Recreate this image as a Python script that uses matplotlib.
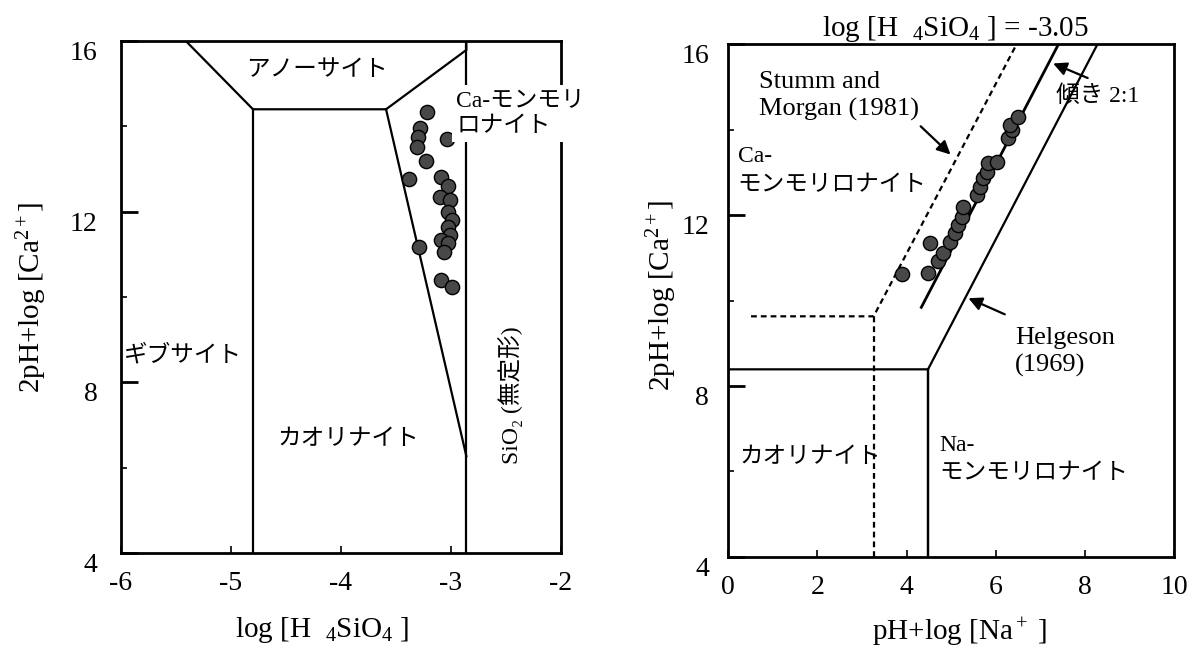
import matplotlib
matplotlib.use("Agg")
import matplotlib.pyplot as plt
from matplotlib.ticker import FixedLocator

plt.rcParams['font.family'] = ['Liberation Serif', 'Noto Sans CJK JP', 'DejaVu Sans']
plt.rcParams['mathtext.fontset'] = 'custom'
plt.rcParams['mathtext.rm'] = 'Liberation Serif'
plt.rcParams['mathtext.it'] = 'Liberation Serif:italic'

# ---- Left diagram: 2pH+log[Ca2+] vs log[H4SiO4] ----
left_pts_x = [-3.22, -3.28, -3.30, -3.31, -3.04, -3.23, -3.38, -3.09, -3.03,
              -3.10, -3.01, -3.03, -2.99, -3.03, -3.01, -3.09, -3.03, -3.06,
              -3.29, -3.09, -2.99]
left_pts_y = [14.33, 13.95, 13.76, 13.52, 13.70, 13.19, 12.76, 12.82, 12.60,
              12.35, 12.27, 12.00, 11.80, 11.65, 11.45, 11.34, 11.26, 11.06,
              11.18, 10.40, 10.24]

anorthite_x = [-5.41, -4.80, -3.59, -2.86, -2.86]
anorthite_y = [16.0, 14.40, 14.40, 15.79, 16.0]
gibbsite_kaol_x = [-4.80, -4.80]
gibbsite_kaol_y = [14.40, 4.0]
kaol_camont_x = [-3.59, -2.86]
kaol_camont_y = [14.40, 6.27]
silica_x = [-2.86, -2.86]
silica_y = [4.0, 16.0]

# ---- Right diagram: 2pH+log[Ca2+] vs pH+log[Na+] ----
right_pts_x = [3.89, 4.53, 4.49, 4.71, 4.82, 4.97, 5.09, 5.16, 5.24, 5.27,
               5.57, 5.65, 5.72, 5.80, 5.83, 6.02, 6.28, 6.36, 6.32, 6.51]
right_pts_y = [10.61, 11.34, 10.64, 10.93, 11.10, 11.38, 11.57, 11.77, 11.96,
               12.19, 12.47, 12.66, 12.86, 13.01, 13.21, 13.25, 13.79, 13.99,
               14.11, 14.30]

helgeson_x = [0.0, 4.48, 4.48, 4.48, 8.285]
helgeson_y = [8.39, 8.39, 4.0, 8.39, 16.0]
stumm_x = [0.51, 3.26, 6.47]
stumm_y = [9.63, 9.63, 16.0]
stumm_vert_x = [3.26, 3.26]
stumm_vert_y = [4.0, 9.63]
fit_x = [4.33, 7.41]
fit_y = [9.84, 16.0]

yticks = [4, 8, 12, 16]
yminor = [6, 10, 14]
left_xticks = [-6, -5, -4, -3, -2]
right_xticks = [0, 2, 4, 6, 8, 10]

fig = plt.figure(figsize=(11.93, 6.51), dpi=100)
axL = fig.add_axes([0.1014, 0.1505, 0.3688, 0.7865])
axR = fig.add_axes([0.6105, 0.1444, 0.3736, 0.788])

LW = 1.6
TICK_FS = 20
LBL_FS = 21
NOTE_FS = 19
JP_FS = 17


def style_axes(ax, xticks, xlim, ypad):
    ax.set_xlim(*xlim)
    ax.set_ylim(4, 16)
    ax.set_xticks(xticks)
    ax.set_yticks(yticks)
    ax.yaxis.set_minor_locator(FixedLocator(yminor))
    for s in ax.spines.values():
        s.set_linewidth(2.0)
    ax.tick_params(axis='y', which='major', direction='in', length=12, width=2,
                   labelsize=TICK_FS, pad=ypad)
    ax.tick_params(axis='y', which='minor', direction='in', length=4, width=1.2)
    ax.tick_params(axis='x', which='major', direction='in', length=5, width=1.2,
                   labelsize=TICK_FS, pad=13)
    for lab in ax.get_yticklabels():
        lab.set_verticalalignment('top')
    ax.set_ylabel(r'2pH+log [Ca$^{2+}$]', fontsize=LBL_FS)


def dots(ax, xs, ys):
    ax.scatter(xs, ys, s=105, facecolor='#484848', edgecolor='black',
               linewidth=1.0, zorder=4, clip_on=False)


# Left panel
style_axes(axL, left_xticks, (-6, -2), 17)
axL.set_xticklabels(['-6', '-5', '-4', '-3', '-2'])
axL.plot(anorthite_x, anorthite_y, color='black', lw=LW, solid_joinstyle='miter')
axL.plot(gibbsite_kaol_x, gibbsite_kaol_y, color='black', lw=LW)
axL.plot(kaol_camont_x, kaol_camont_y, color='black', lw=LW)
axL.plot(silica_x, silica_y, color='black', lw=LW)
dots(axL, left_pts_x, left_pts_y)

axL.text(-4.22, 15.31, 'アノーサイト', fontsize=JP_FS, ha='center', va='center')
axL.text(-2.95, 14.30, 'Ca-モンモリ\nロナイト', fontsize=JP_FS, ha='left',
         va='center', linespacing=1.35, zorder=5,
         bbox=dict(facecolor='white', edgecolor='none', pad=3))
axL.text(-5.97, 8.62, 'ギブサイト', fontsize=JP_FS, ha='left', va='center')
axL.text(-3.93, 6.65, 'カオリナイト', fontsize=JP_FS, ha='center', va='center')
axL.text(-2.455, 7.70, 'SiO₂ (無定形)', fontsize=JP_FS, ha='center',
         va='center', rotation=90)
axL.set_xlabel(r'log [H  $_4$SiO$_4$ ]', fontsize=LBL_FS)
axL.xaxis.set_label_coords(0.457, -0.121)
axL.yaxis.set_label_coords(-0.164, 0.50)

# Right panel
style_axes(axR, right_xticks, (0, 10), 14)
axR.plot(helgeson_x, helgeson_y, color='black', lw=LW, solid_joinstyle='miter')
axR.plot(stumm_x, stumm_y, color='black', lw=LW, ls=(0, (2.6, 1.8)))
axR.plot(stumm_vert_x, stumm_vert_y, color='black', lw=LW, ls=(0, (2.6, 1.8)))
axR.plot(fit_x, fit_y, color='black', lw=LW + 0.4)
dots(axR, right_pts_x, right_pts_y)

axR.text(0.68, 14.78, 'Stumm and\nMorgan (1981)', fontsize=NOTE_FS, ha='left',
         va='center', linespacing=1.25)
axR.text(0.21, 13.03, 'Ca-\nモンモリロナイト', fontsize=JP_FS, ha='left',
         va='center', linespacing=1.45)
axR.text(7.36, 14.78, '傾き 2:1', fontsize=JP_FS, ha='left', va='center')
axR.text(6.43, 8.80, 'Helgeson\n(1969)', fontsize=NOTE_FS, ha='left', va='center',
         linespacing=1.25)
axR.text(0.25, 6.32, 'カオリナイト', fontsize=JP_FS, ha='left', va='center')
axR.text(4.74, 6.29, 'Na-\nモンモリロナイト', fontsize=JP_FS, ha='left',
         va='center', linespacing=1.45)

arrow = dict(arrowstyle='-|>', color='black', lw=1.6, mutation_scale=20)
axR.annotate('', xy=(5.03, 13.37), xytext=(4.27, 14.12), arrowprops=arrow)
axR.annotate('', xy=(7.23, 15.57), xytext=(8.12, 15.18), arrowprops=arrow)
axR.annotate('', xy=(5.33, 10.08), xytext=(6.26, 9.65), arrowprops=arrow)

axR.text(0.51, 1.0, r'log [H  $_4$SiO$_4$ ] = -3.05', transform=axR.transAxes,
         fontsize=LBL_FS, ha='center', va='bottom')
axR.set_xlabel(r'pH+log [Na$^+$ ]', fontsize=LBL_FS)
axR.xaxis.set_label_coords(0.518, -0.115)
axR.yaxis.set_label_coords(-0.11, 0.51)

fig.savefig('out.png', dpi=100)
